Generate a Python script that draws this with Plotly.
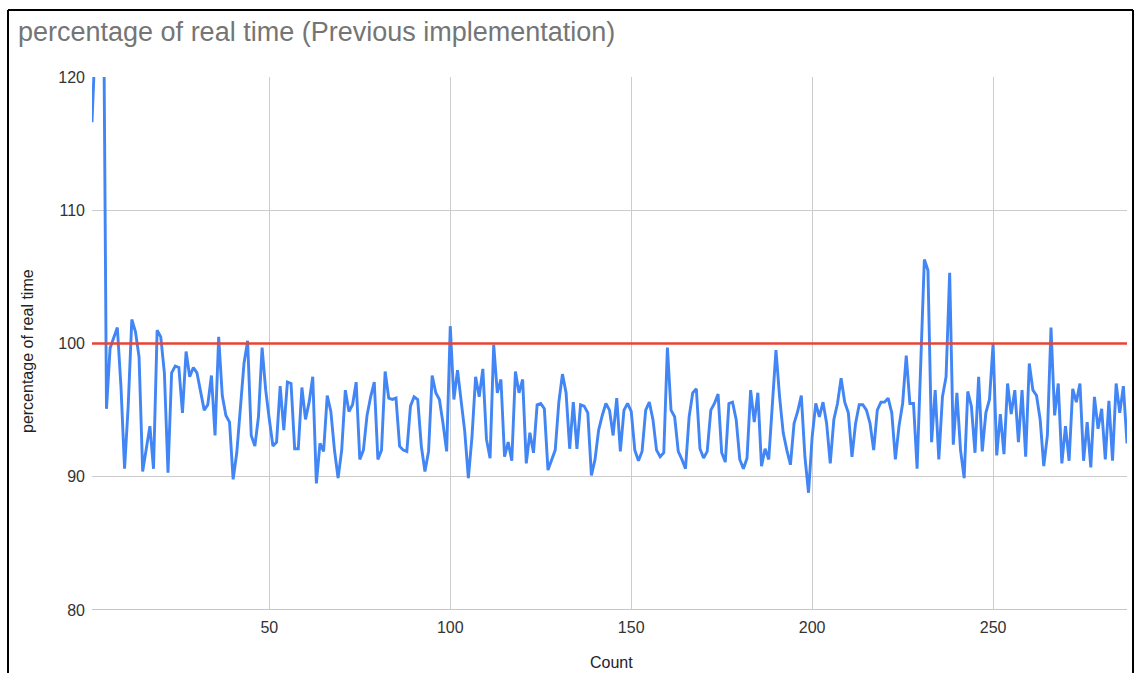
import plotly.graph_objects as go

# ---------------- data ----------------
values = [
    116.6, 123.0, 130.0, 134.0, 95.1, 99.65, 100.5, 101.2, 96.8, 90.6,
    95.3, 101.8, 100.9, 99.0, 90.4, 92.0, 93.8, 90.6, 101.0, 100.5,
    97.8, 90.3, 97.8, 98.3, 98.2, 94.8, 99.4, 97.5, 98.2, 97.8,
    96.3, 95.0, 95.4, 97.6, 93.1, 100.5, 96.1, 94.6, 94.1, 89.8,
    91.8, 95.3, 98.5, 100.2, 93.1, 92.3, 94.5, 99.7, 96.5, 94.3,
    92.3, 92.6, 96.8, 93.5, 97.1, 97.0, 92.1, 92.1, 96.7, 94.3,
    95.6, 97.5, 89.5, 92.5, 91.9, 96.1, 94.9, 92.0, 89.9, 92.0,
    96.5, 94.9, 95.4, 97.1, 91.3, 92.0, 94.6, 96.0, 97.1, 91.3,
    92.0, 97.9, 95.9, 95.8, 95.9, 92.3, 92.0, 91.9, 95.3, 96.0,
    95.8, 92.3, 90.4, 91.9, 97.6, 96.3, 95.8, 94.0, 91.9, 101.3,
    95.8, 98.0, 95.8, 93.4, 89.9, 93.0, 97.5, 96.0, 98.1, 92.8,
    91.4, 99.9, 96.3, 97.3, 91.5, 92.6, 91.2, 97.9, 96.3, 97.3,
    91.0, 93.3, 91.8, 95.4, 95.5, 95.1, 90.5, 91.3, 92.0, 95.6,
    97.7, 96.3, 92.1, 95.6, 92.1, 95.4, 95.3, 94.8, 90.1, 91.3,
    93.5, 94.6, 95.5, 95.0, 93.1, 95.9, 91.9, 95.0, 95.5, 94.9,
    92.0, 91.2, 91.9, 95.0, 95.6, 94.3, 92.0, 91.5, 91.8, 99.7,
    95.0, 94.5, 91.9, 91.3, 90.6, 94.5, 96.3, 96.6, 92.1, 91.4,
    91.9, 95.0, 95.5, 96.2, 91.8, 91.1, 95.5, 95.6, 94.3, 91.3,
    90.6, 91.4, 96.5, 94.1, 96.3, 90.8, 92.1, 91.3, 95.5, 99.5,
    96.0, 93.3, 92.0, 90.9, 94.0, 94.9, 96.1, 91.5, 88.8, 93.0,
    95.5, 94.5, 95.6, 94.0, 91.0, 94.3, 95.5, 97.4, 95.6, 94.8,
    91.5, 94.0, 95.4, 95.4, 95.0, 94.0, 92.0, 95.0, 95.6, 95.6,
    95.9, 94.8, 91.3, 93.8, 95.5, 99.1, 95.5, 95.5, 90.6, 98.0,
    106.3, 105.5, 92.6, 96.5, 91.3, 96.0, 97.5, 105.3, 92.4, 96.3,
    92.0, 89.9, 96.4, 95.3, 91.8, 97.5, 91.9, 94.8, 95.8, 100.0,
    91.6, 94.7, 91.7, 97.0, 94.7, 96.5, 92.6, 96.5, 91.5, 98.5,
    96.5, 96.1, 94.3, 90.8, 93.1, 101.2, 94.6, 97.0, 91.0, 93.8,
    91.2, 96.6, 95.6, 97.0, 91.2, 94.1, 90.7, 96.0, 93.6, 95.1,
    91.3, 95.7, 91.2, 97.0, 94.8, 96.8, 92.5,
]
counts = list(range(1, len(values) + 1))
threshold = 100
x_ticks = [50, 100, 150, 200, 250]
y_ticks = [80, 90, 100, 110, 120]

title_text = "percentage of real time (Previous implementation)"
y_title = "percentage of real time"
x_title = "Count"

# ---------------- figure ----------------
W, H = 1137, 673
L, R, T, B = 92, 10, 77, 63
FONT = "Liberation Sans, Arial, sans-serif"

fig = go.Figure()
fig.add_trace(go.Scatter(
    x=counts, y=values, mode="lines",
    line=dict(color="#4285f4", width=2.9),
    name="percentage of real time", showlegend=False,
))
fig.add_trace(go.Scatter(
    x=[counts[0], counts[-1]], y=[threshold, threshold], mode="lines",
    line=dict(color="#ea4335", width=2.7),
    name="100", showlegend=False,
))


def px_x(p):
    return (p - L) / (W - L - R)


def px_y(p):
    return (H - B - p) / (H - T - B)


border = dict(color="black", width=2)
shapes = [
    dict(type="line", xref="paper", yref="paper",
         x0=px_x(8), x1=px_x(8), y0=px_y(10), y1=px_y(700), line=border),
    dict(type="line", xref="paper", yref="paper",
         x0=px_x(8), x1=px_x(1133), y0=px_y(10), y1=px_y(10), line=border),
    dict(type="line", xref="paper", yref="paper",
         x0=px_x(1133), x1=px_x(1133), y0=px_y(10), y1=px_y(700), line=border),
]

fig.update_layout(
    width=W, height=H,
    margin=dict(l=L, r=R, t=T, b=B),
    paper_bgcolor="white", plot_bgcolor="white",
    font=dict(family=FONT, size=16, color="#333333"),
    title=dict(text=title_text, xref="container", yref="container",
               x=18 / W, xanchor="left", y=1 - 32 / H, yanchor="middle",
               font=dict(family=FONT, size=27, color="#757575")),
    shapes=shapes,
    annotations=[
        dict(text=y_title, xref="paper", yref="paper",
             x=px_x(27), y=px_y(351), textangle=-90,
             showarrow=False, xanchor="center", yanchor="middle",
             font=dict(family=FONT, size=16, color="#222222")),
        dict(text=x_title, xref="paper", yref="paper",
             x=px_x(611), y=px_y(662), showarrow=False,
             xanchor="center", yanchor="middle",
             font=dict(family=FONT, size=16, color="#222222")),
    ],
)
fig.update_xaxes(
    range=[counts[0], counts[-1]], tickvals=x_ticks,
    showgrid=True, gridcolor="#cccccc", gridwidth=1,
    zeroline=False, showline=False, ticks="",
    ticklabelstandoff=6,
    tickfont=dict(family=FONT, size=16, color="#333333"),
)
fig.update_yaxes(
    range=[80, 120], tickvals=y_ticks,
    showgrid=True, gridcolor="#cccccc", gridwidth=1,
    zeroline=False, showline=False, ticks="",
    ticklabelstandoff=6,
    tickfont=dict(family=FONT, size=16, color="#333333"),
)
# darker baseline at the bottom of the plot
fig.add_hline(y=80, line=dict(color="#b3b3b3", width=1.5), layer="below")

fig.write_html("out.html")
